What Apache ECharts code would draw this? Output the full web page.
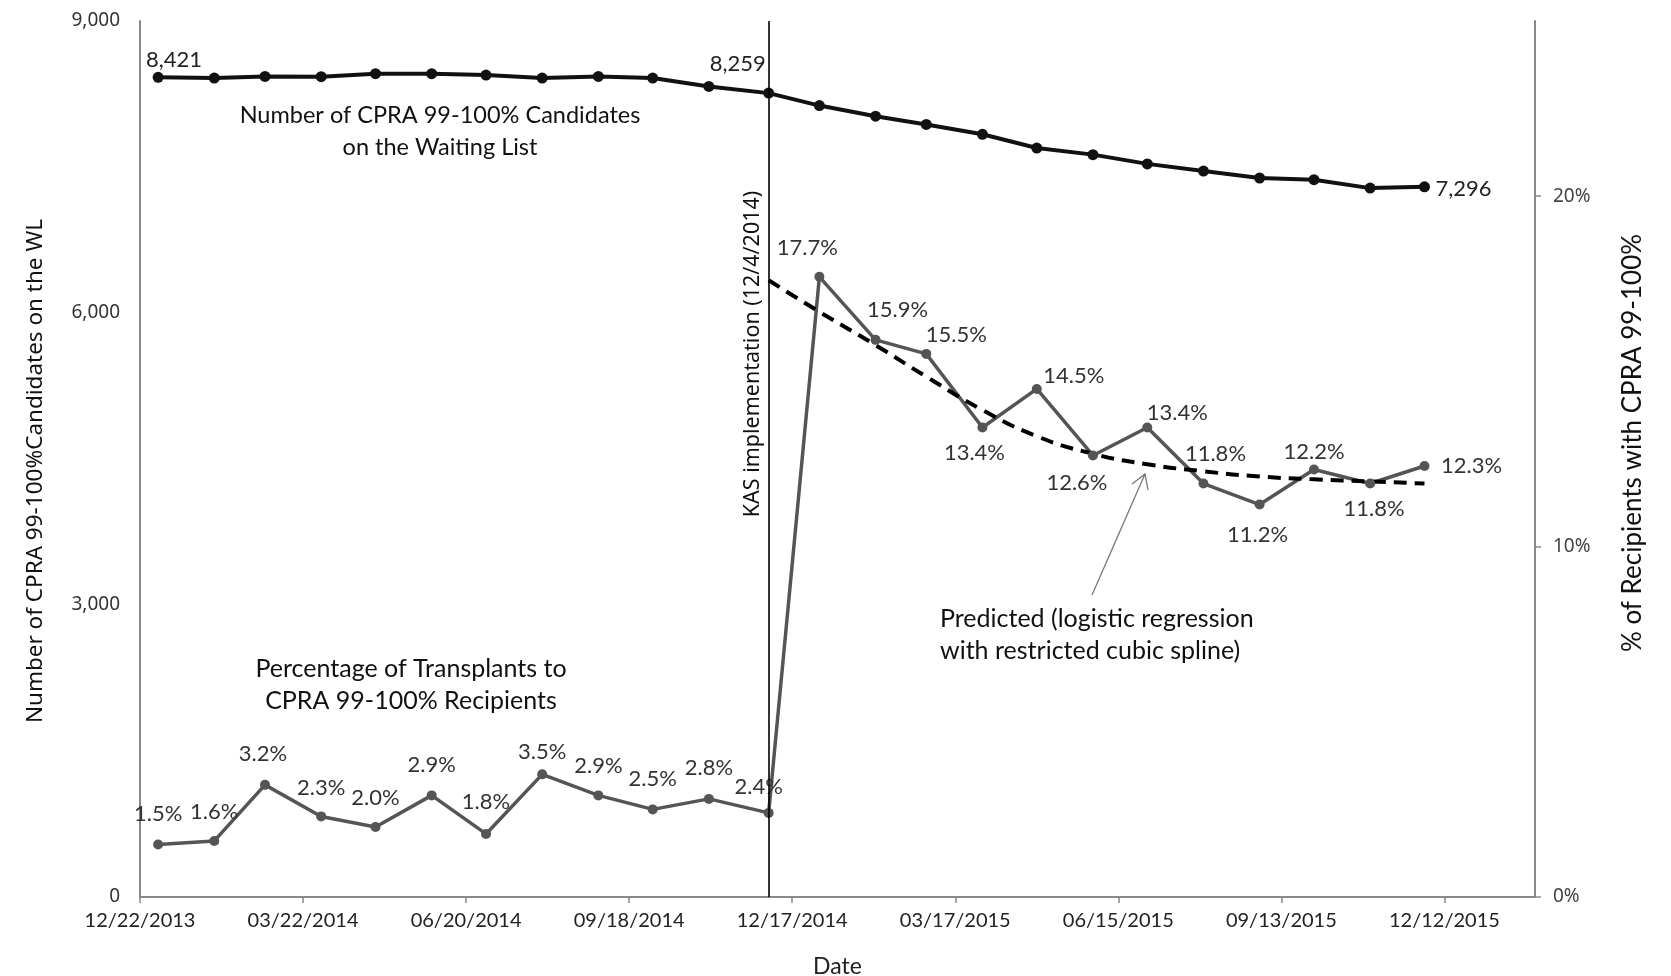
<!DOCTYPE html>
<html>
<head>
<meta charset="utf-8">
<script src="https://cdn.jsdelivr.net/npm/echarts@6/dist/echarts.min.js"></script>
<style>
html,body{margin:0;padding:0;background:#fff;}
#chart{width:1671px;height:976px;}
</style>
</head>
<body>
<div id="chart"></div>
<script>
// ---------- data ----------
const axisStart = '2013-12-22';
const kasDate = '2014-12-04';
const xTickDays = [0, 90, 180, 270, 360, 450, 540, 630, 720];
const leftTicks = [0, 3000, 6000, 9000];
const rightTicks = [0, 10, 20];

const dates = ['2014-01-01','2014-02-01','2014-03-01','2014-04-01','2014-05-01','2014-06-01',
  '2014-07-01','2014-08-01','2014-09-01','2014-10-01','2014-11-01','2014-12-04',
  '2015-01-01','2015-02-01','2015-03-01','2015-04-01','2015-05-01','2015-06-01',
  '2015-07-01','2015-08-01','2015-09-01','2015-10-01','2015-11-01','2015-12-01'];
const candidates = [8421, 8414, 8431, 8428, 8459, 8459, 8445, 8414, 8431, 8414, 8328, 8259,
  8131, 8022, 7937, 7836, 7695, 7627, 7532, 7458, 7387, 7370, 7283, 7296];
const pctRecipients = [1.5, 1.6, 3.2, 2.3, 2.0, 2.9, 1.8, 3.5, 2.9, 2.5, 2.8, 2.4,
  17.7, 15.9, 15.5, 13.4, 14.5, 12.6, 13.4, 11.8, 11.2, 12.2, 11.8, 12.3];
const predDates = ['2014-12-04','2015-01-01','2015-02-01','2015-03-01','2015-04-01','2015-05-01',
  '2015-06-01','2015-07-01','2015-08-01','2015-09-01','2015-10-01','2015-11-01','2015-12-01'];
const predicted = [17.6, 16.7, 15.75, 14.85, 13.9, 13.15, 12.65, 12.35, 12.15, 12.0, 11.92, 11.86, 11.8];

// label offsets (style only) for the percentage series, [dx, dy] from point centre
const pctLabelOffsets = [[0,-31],[0,-29],[-2,-31],[0,-29],[0,-29],[0,-30],[0,-32],[0,-22],[0,-29],[0,-30],[0,-31],[-10,-26],
  [-12,-29],[22,-30],[30,-19],[-8,25],[37,-13],[-16,27],[30,-15],[12,-30],[-2,30],[0,-18],[4,25],[47,0]];
const candLabel = {0:[16,-17], 11:[-31,-29], 23:[39,2]};

// ---------- helpers ----------
const DAY = 86400000;
function toDay(s){ const [y,m,d]=s.split('-').map(Number); const [y0,m0,d0]=axisStart.split('-').map(Number);
  return Math.round((Date.UTC(y,m-1,d)-Date.UTC(y0,m0-1,d0))/DAY); }
function dayLabel(n){ const [y0,m0,d0]=axisStart.split('-').map(Number); const t=new Date(Date.UTC(y0,m0-1,d0)+n*DAY);
  const p=v=>String(v).padStart(2,'0'); return p(t.getUTCMonth()+1)+'/'+p(t.getUTCDate())+'/'+t.getUTCFullYear(); }

const NARROW = "'Liberation Sans Narrow', 'Arial Narrow', Lato, sans-serif";
const WIDE = "'Noto Sans', 'DejaVu Sans', sans-serif";

const candData = dates.map((d,i)=>{
  const o = {value:[toDay(d), candidates[i]]};
  if (candLabel[i]) o.label = {show:true, position:'inside', offset:candLabel[i],
    formatter: p=>p.value[1].toLocaleString('en-US')};
  return o;
});
const pctData = dates.map((d,i)=>({value:[toDay(d), pctRecipients[i]],
  label:{show:true, position:'inside', offset:pctLabelOffsets[i], formatter: p=>p.value[1].toFixed(1)+'%'}}));
const predData = predDates.map((d,i)=>[toDay(d), predicted[i]]);

const chart = echarts.init(document.getElementById('chart'), null, {renderer:'canvas'});
chart.setOption({
  animation:false,
  backgroundColor:'#fff',
  grid:{left:140, right:136, top:21, bottom:79, containLabel:false, outerBoundsMode:'none'},
  xAxis:{type:'value', min:0, max:770, interval:90,
    name:'Date', nameLocation:'middle', nameGap:58,
    nameTextStyle:{fontFamily:NARROW, fontSize:23, color:'#222'},
    axisLine:{show:true, lineStyle:{color:'#888', width:2}},
    axisTick:{show:true, length:6, customValues:xTickDays, lineStyle:{color:'#888', width:1.5}},
    axisLabel:{customValues:xTickDays, formatter:v=>dayLabel(v), fontFamily:NARROW, fontSize:20, color:'#222', margin:14},
    splitLine:{show:false}},
  yAxis:[
    {type:'value', min:0, max:9000, interval:3000, position:'left',
      name:'Number of CPRA 99-100%Candidates on the WL', nameLocation:'middle', nameGap:93, nameRotate:90,
      nameTextStyle:{fontFamily:WIDE, fontSize:22.5, color:'#111', padding:[0,24,0,0]},
      axisLine:{show:true, lineStyle:{color:'#888', width:2}},
      axisTick:{show:false},
      axisLabel:{customValues:leftTicks, formatter:v=>v.toLocaleString('en-US'), fontFamily:WIDE, fontSize:19, color:'#333', margin:20},
      splitLine:{show:false}},
    {type:'value', min:0, max:25, interval:10, position:'right',
      name:'% of Recipients with CPRA 99-100%', nameLocation:'middle', nameGap:85, nameRotate:90,
      nameTextStyle:{fontFamily:NARROW, fontSize:26, color:'#111', padding:[0,0,30,32]},
      axisLine:{show:true, lineStyle:{color:'#888', width:2}},
      axisTick:{show:true, length:6, customValues:rightTicks, lineStyle:{color:'#888', width:1.5}},
      axisLabel:{customValues:rightTicks, formatter:'{value}%', fontFamily:WIDE, fontSize:19, color:'#444', margin:18},
      splitLine:{show:false}}
  ],
  series:[
    {type:'line', name:'Candidates', yAxisIndex:0, data:candData,
      symbol:'circle', symbolSize:11, itemStyle:{color:'#111'}, lineStyle:{color:'#111', width:4},
      label:{show:false, fontFamily:NARROW, fontSize:22, color:'#222'},
      markLine:{silent:true, symbol:['none','none'], label:{show:false},
        lineStyle:{color:'#000', width:1.6, type:'solid'},
        data:[{xAxis: toDay(kasDate)}]}},
    {type:'line', name:'Pct', yAxisIndex:1, data:pctData,
      symbol:'circle', symbolSize:10, itemStyle:{color:'#555'}, lineStyle:{color:'#555', width:3.5},
      label:{show:true, fontFamily:NARROW, fontSize:22, color:'#333'}},
    {type:'line', name:'Predicted', yAxisIndex:1, data:predData, smooth:true,
      symbol:'none', lineStyle:{color:'#000', width:4, type:[13,8]}, z:3}
  ],
  graphic:[
    {type:'text', x:440, y:131, style:{text:'Number of CPRA 99-100% Candidates\non the Waiting List',
      fontFamily:NARROW, fontSize:23.5, lineHeight:32, fill:'#111', align:'center', verticalAlign:'middle'}},
    {type:'text', x:411, y:685, style:{text:'Percentage of Transplants to\nCPRA 99-100% Recipients',
      fontFamily:NARROW, fontSize:25, lineHeight:32, fill:'#111', align:'center', verticalAlign:'middle'}},
    {type:'text', x:940, y:635, style:{text:'Predicted (logistic regression\nwith restricted cubic spline)',
      fontFamily:NARROW, fontSize:25, lineHeight:32, fill:'#111', align:'left', verticalAlign:'middle'}},
    {type:'text', x:753, y:354, rotation:Math.PI/2, style:{text:'KAS implementation (12/4/2014)',
      fontFamily:WIDE, fontSize:21.5, fill:'#111', align:'center', verticalAlign:'middle'}},
    {type:'line', shape:{x1:1092, y1:595, x2:1145, y2:474}, style:{stroke:'#777', lineWidth:1.3}},
    {type:'polyline', shape:{points:[[1132,484],[1145,474],[1148,490]]}, style:{stroke:'#777', lineWidth:1.3, fill:null}}
  ]
});
</script>
</body>
</html>
